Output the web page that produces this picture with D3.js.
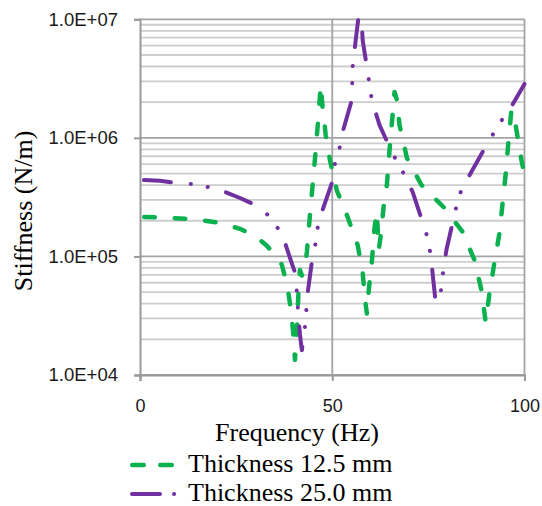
<!DOCTYPE html>
<html>
<head>
<meta charset="utf-8">
<script src="https://cdn.jsdelivr.net/npm/d3@7"></script>
<style>
  html, body { margin: 0; padding: 0; background: #fff; }
  svg { display: block; }
</style>
</head>
<body>
<svg id="chart" width="542" height="506"></svg>
<script>
// ---- Data ----
const seriesNames = ["Thickness 12.5 mm", "Thickness 25.0 mm"];

const freqGreen = [0,5.2,10.4,15.6,20.8,26,29.9,33,35.1,36.9,37.9,38.7,39.5,40,40.3,40.8,41.3,41.6,42.1,42.9,43.4,44.2,44.9,45.7,46.5,47,47.5,48.3,49.4,51.2,54,56.6,57.9,58.4,59,59.5,60.3,61,61.6,62.1,62.6,63.4,64.2,64.9,65.7,66.2,66.8,67.5,69.4,73.2,79.2,83.9,87,88.8,89.9,90.9,92.2,93.5,94.3,95.1,95.8,96.6,97.7,99.2,100.5];
const stiffGreen = [2.15e5,2.13e5,2.09e5,2.03e5,1.92e5,1.71e5,1.49e5,1.23e5,1.03e5,8.5e4,6.3e4,4.7e4,3.0e4,1.98e4,1.34e4,2.4e4,5.8e4,7.7e4,6.9e4,8.0e4,1.09e5,2.24e5,4.0e5,7.9e5,1.65e6,2.8e6,1.79e6,1.06e6,6.5e5,3.6e5,2.15e5,1.25e5,7.4e4,4.7e4,3.3e4,5.2e4,9.0e4,1.74e5,2.37e5,1.14e5,1.49e5,2.7e5,4.0e5,7.9e5,1.56e6,2.44e6,2.09e6,1.28e6,6.8e5,4.0e5,2.56e5,1.61e5,9.3e4,5.2e4,2.8e4,4.9e4,9.0e4,1.58e5,2.8e5,4.9e5,9.1e5,1.72e6,1.28e6,6.5e5,4.0e5];

const freqPurple = [0,5.2,9.1,13.5,17.7,22.1,26,29.4,33,35.8,37.9,39.2,40.5,41,41.6,42.1,42.9,43.6,44.7,45.5,46.2,47.3,49.9,50.6,51.9,52.7,55.1,55.3,55.8,57.4,57.9,59.2,60.3,62.3,64.9,66.8,69.1,70.9,73.5,74.8,75.6,76.9,78.2,78.7,79.7,81,82.9,85,89.1,93.5,96.1,100];
const stiffPurple = [4.42e5,4.34e5,4.17e5,4.08e5,3.85e5,3.5e5,3.11e5,2.77e5,2.28e5,1.74e5,1.25e5,9.3e4,7.0e4,3.9e4,2.19e4,1.62e4,2.55e4,4.9e4,9.0e4,1.2e5,1.74e5,2.37e5,4.17e5,5.9e5,8.2e5,1.12e6,2.09e6,3.96e6,5.5e6,1.5e7,6.7e6,3.6e6,2.08e6,1.28e6,8.4e5,6.3e5,4.68e5,3.5e5,1.95e5,1.43e5,1.03e5,4.06e4,4.9e4,6.9e4,1.14e5,1.74e5,3.24e5,4.4e5,7.6e5,1.33e6,1.72e6,2.85e6];

const xTicks = [0, 50, 100];
const xTickLabels = ["0", "50", "100"];
const yTicks = [1e4, 1e5, 1e6, 1e7];
const yTickLabels = ["1.0E+04", "1.0E+05", "1.0E+06", "1.0E+07"];
const xTitle = "Frequency (Hz)";
const yTitle = "Stiffness (N/m)";

// ---- Layout ----
const L = 140, R = 524.5, T = 19.3, B = 375;
const svg = d3.select("#chart");

const x = d3.scaleLinear().domain([0, 100]).range([L, R]);
const y = d3.scaleLog().domain([1e4, 1e7]).range([B, T]);

// Gridlines
const grid = svg.append("g");
const allY = y.ticks();
grid.selectAll("line.minor")
  .data(allY.filter(v => !yTicks.includes(v)))
  .join("line")
  .attr("x1", L).attr("x2", R)
  .attr("y1", d => y(d)).attr("y2", d => y(d))
  .attr("stroke", "#cdcdcd").attr("stroke-width", 1.8);
grid.selectAll("line.major")
  .data(yTicks)
  .join("line")
  .attr("x1", L).attr("x2", R)
  .attr("y1", d => y(d)).attr("y2", d => y(d))
  .attr("stroke", "#a4a4a4").attr("stroke-width", 1.8);
grid.selectAll("line.vx")
  .data(xTicks.filter(v => v > 0))
  .join("line")
  .attr("x1", d => x(d)).attr("x2", d => x(d))
  .attr("y1", T).attr("y2", B)
  .attr("stroke", "#a4a4a4").attr("stroke-width", 1.8);

// Axes
const yAxis = d3.axisLeft(y).tickValues(yTicks)
  .tickFormat((d, i) => yTickLabels[i]).tickSize(6).tickPadding(16);
const gy = svg.append("g").attr("transform", `translate(${L},0)`).call(yAxis);
gy.select(".domain").attr("stroke", "#999").attr("stroke-width", 2);
gy.selectAll(".tick line").attr("stroke", "#999").attr("stroke-width", 2);
gy.selectAll(".tick text")
  .attr("font-family", "Liberation Sans, Arial, sans-serif")
  .attr("font-size", "18.5px").attr("fill", "#1a1a1a");

const xAxis = d3.axisBottom(x).tickValues(xTicks)
  .tickFormat((d, i) => xTickLabels[i]).tickSize(6).tickPadding(18.5);
const gx = svg.append("g").attr("transform", `translate(0,${B})`).call(xAxis);
gx.select(".domain").attr("stroke", "#999").attr("stroke-width", 2);
gx.selectAll(".tick line").attr("stroke", "#999").attr("stroke-width", 2);
gx.selectAll(".tick text")
  .attr("font-family", "Liberation Sans, Arial, sans-serif")
  .attr("font-size", "18px").attr("fill", "#1a1a1a");

// Clip for series
svg.append("defs").append("clipPath").attr("id", "plotclip")
  .append("rect").attr("x", L).attr("y", T - 1.5).attr("width", R - L + 6).attr("height", B - T + 3);

const line = d3.line().x(d => x(d[0])).y(d => y(d[1]));
const green = freqGreen.map((f, i) => [f, stiffGreen[i]]);
const purple = freqPurple.map((f, i) => [f, stiffPurple[i]]);

const series = svg.append("g").attr("clip-path", "url(#plotclip)");
series.append("path").datum(green)
  .attr("d", line).attr("fill", "none")
  .attr("stroke", "#0bb14f").attr("stroke-width", 4.5)
  .attr("stroke-linecap", "round").attr("stroke-linejoin", "round")
  .attr("stroke-dasharray", "10.5,20").attr("stroke-dashoffset", 26.25);
series.append("path").datum(purple)
  .attr("d", line).attr("fill", "none")
  .attr("stroke", "#7030a0").attr("stroke-width", 4)
  .attr("stroke-linecap", "round").attr("stroke-linejoin", "round")
  .attr("stroke-dasharray", "27,20,0.1,17,0.1,19").attr("stroke-dashoffset", 79.2);

// Axis titles
svg.append("text")
  .attr("x", 297).attr("y", 441)
  .attr("text-anchor", "middle")
  .attr("font-family", "Liberation Serif, Times New Roman, serif")
  .attr("font-size", "26px").attr("fill", "#000")
  .text(xTitle);
svg.append("text")
  .attr("transform", "translate(32,211) rotate(-90)")
  .attr("text-anchor", "middle")
  .attr("font-family", "Liberation Serif, Times New Roman, serif")
  .attr("font-size", "26px").attr("fill", "#000")
  .text(yTitle);

// Legend
const leg = svg.append("g");
leg.append("line").attr("x1", 132.25).attr("x2", 172).attr("y1", 465).attr("y2", 465)
  .attr("stroke", "#0bb14f").attr("stroke-width", 4.5).attr("stroke-linecap", "round")
  .attr("stroke-dasharray", "11.5,16.5");
leg.append("line").attr("x1", 132).attr("x2", 176).attr("y1", 494).attr("y2", 494)
  .attr("stroke", "#7030a0").attr("stroke-width", 4).attr("stroke-linecap", "round")
  .attr("stroke-dasharray", "28,14,0.1,100");
leg.selectAll("text.lg").data(seriesNames).join("text")
  .attr("x", 188).attr("y", (d, i) => 471.5 + i * 29)
  .attr("font-family", "Liberation Serif, Times New Roman, serif")
  .attr("font-size", "26px").attr("fill", "#000")
  .text(d => d);
</script>
</body>
</html>
